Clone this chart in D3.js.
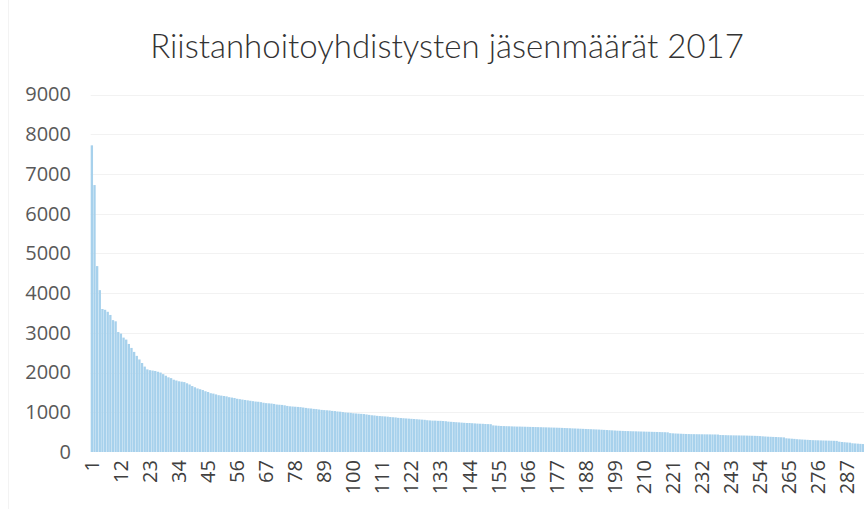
<!DOCTYPE html>
<html>
<head>
<meta charset="utf-8">
<script src="https://cdn.jsdelivr.net/npm/d3@7"></script>
<style>
  body { margin: 0; background: #fff; }
  svg { display: block; }
</style>
</head>
<body>
<svg width="864" height="509"></svg>
<script>
// chart texts
var title = "Riistanhoitoyhdistysten jäsenmäärät 2017";
var yTicks = [0, 1000, 2000, 3000, 4000, 5000, 6000, 7000, 8000, 9000];

// member counts per association, largest first
var members = [
  7720, 6720, 4680, 4075, 3600, 3580, 3530, 3450, 3320, 3290,
  3020, 2980, 2880, 2830, 2720, 2620, 2520, 2420, 2330, 2240,
  2150, 2080, 2060, 2050, 2040, 2020, 2000, 1960, 1920, 1880,
  1860, 1820, 1800, 1780, 1770, 1760, 1730, 1700, 1660, 1630,
  1600, 1580, 1560, 1530, 1510, 1480, 1470, 1450, 1430, 1420,
  1410, 1400, 1380, 1370, 1360, 1340, 1330, 1320, 1310, 1300,
  1290, 1280, 1270, 1265, 1255, 1240, 1230, 1225, 1220, 1210,
  1195, 1190, 1185, 1175, 1160, 1150, 1145, 1140, 1135, 1130,
  1120, 1110, 1100, 1095, 1085, 1080, 1070, 1060, 1055, 1050,
  1045, 1035, 1030, 1020, 1015, 1005, 995, 990, 985, 975,
  970, 965, 960, 955, 945, 935, 925, 920, 910, 905,
  900, 895, 890, 880, 875, 870, 860, 855, 850, 845,
  840, 835, 830, 825, 820, 815, 810, 800, 795, 790,
  790, 785, 785, 780, 775, 765, 760, 755, 750, 745,
  740, 735, 730, 730, 725, 720, 715, 712, 710, 705,
  702, 700, 670, 665, 660, 655, 652, 650, 648, 645,
  643, 640, 640, 638, 636, 634, 632, 630, 628, 626,
  624, 622, 620, 618, 616, 614, 612, 610, 607, 604,
  601, 598, 595, 592, 589, 586, 583, 580, 577, 574,
  571, 568, 565, 561, 557, 553, 549, 545, 541, 537,
  534, 531, 528, 526, 524, 522, 520, 518, 516, 514,
  512, 510, 508, 506, 504, 502, 500, 498, 495, 475,
  470, 466, 463, 460, 457, 454, 452, 450, 449, 448,
  447, 446, 445, 444, 443, 442, 441, 440, 428, 426,
  424, 422, 420, 419, 418, 417, 416, 415, 413, 411,
  409, 407, 405, 400, 395, 390, 386, 383, 380, 377,
  374, 371, 368, 345, 340, 335, 330, 322, 318, 314,
  310, 306, 302, 298, 296, 294, 292, 290, 288, 286,
  284, 282, 280, 260, 252, 246, 240, 235, 220, 215,
  210, 205, 200, 185, 170
];

var svg = d3.select("svg"),
    width = +svg.attr("width"),
    height = +svg.attr("height");

var left = 90.7, step = 2.64,
    yBottom = 452, yTop = 94.5;

var ids = members.map(function(d, i) { return i + 1; });

var x = d3.scaleBand()
    .domain(ids)
    .range([left, left + step * ids.length])
    .paddingInner(0.12);

var y = d3.scaleLinear()
    .domain([0, 9000])
    .range([yBottom, yTop]);

svg.append("rect").attr("width", width).attr("height", height).attr("fill", "#fff");

// faint chart frame edge on the left
svg.append("line")
    .attr("x1", 8.5).attr("x2", 8.5).attr("y1", 0).attr("y2", height)
    .attr("stroke", "#f3f3f3");

// gridlines
svg.append("g").selectAll("line")
    .data(yTicks.slice(1))
    .enter().append("line")
    .attr("x1", left).attr("x2", width)
    .attr("y1", function(d) { return Math.round(y(d)) + 0.5; })
    .attr("y2", function(d) { return Math.round(y(d)) + 0.5; })
    .attr("stroke", "#f2f2f2");

// y axis labels
var yAxis = d3.axisLeft(y).tickValues(yTicks).tickFormat(d3.format("d"))
    .tickSize(0).tickPadding(0);
svg.append("g")
    .attr("transform", "translate(71,0)")
    .call(yAxis)
    .call(function(g) { g.select(".domain").remove(); })
    .selectAll("text")
    .attr("font-family", "'Open Sans', sans-serif")
    .attr("font-size", 20)
    .attr("fill", "#595959");

// bars
svg.append("g").selectAll("rect")
    .data(members)
    .enter().append("rect")
    .attr("x", function(d, i) { return x(i + 1); })
    .attr("width", x.bandwidth())
    .attr("y", function(d) { return y(d); })
    .attr("height", function(d) { return yBottom - y(d); })
    .attr("fill", "#a7d1ec");

// x labels, every 11th association
var xAxis = d3.axisBottom(x)
    .tickValues(ids.filter(function(d) { return (d - 1) % 11 === 0; }))
    .tickSize(0).tickPadding(0);
svg.append("g")
    .attr("transform", "translate(0," + (yBottom + 8) + ")")
    .call(xAxis)
    .call(function(g) { g.select(".domain").remove(); })
    .selectAll("text")
    .attr("font-family", "'Open Sans', sans-serif")
    .attr("font-size", 20)
    .attr("fill", "#404040")
    .attr("text-anchor", "end")
    .attr("transform", "rotate(-90)")
    .attr("x", 0).attr("y", 0).attr("dy", "0.35em");

// title
svg.append("text")
    .attr("x", 447).attr("y", 58)
    .attr("text-anchor", "middle")
    .attr("font-family", "Lato, sans-serif")
    .attr("font-weight", 300)
    .attr("font-size", 33)
    .attr("fill", "#333333")
    .text(title);
</script>
</body>
</html>
